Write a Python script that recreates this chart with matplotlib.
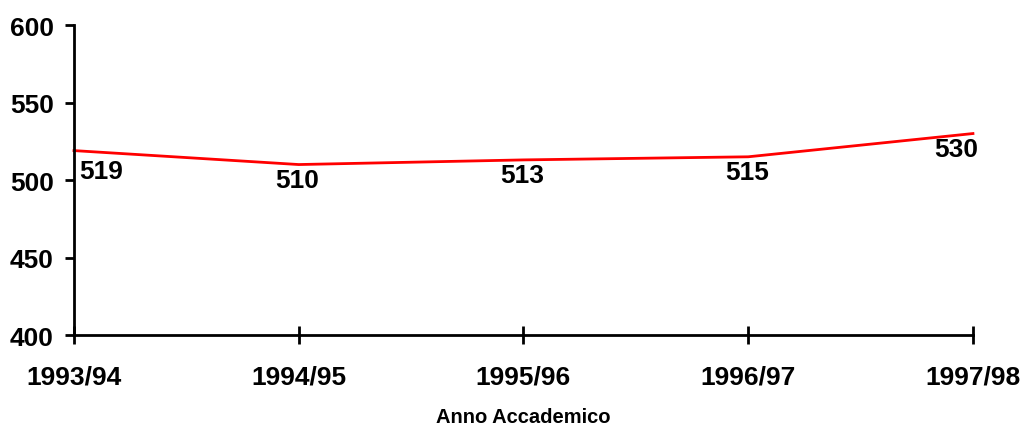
import matplotlib.pyplot as plt

years = ["1993/94", "1994/95", "1995/96", "1996/97", "1997/98"]
values = [519, 510, 513, 515, 530]
y_ticks = [400, 450, 500, 550, 600]

plt.rcParams['font.family'] = ['Liberation Sans', 'DejaVu Sans']
plt.rcParams['font.weight'] = 'bold'


def main():
    fig = plt.figure(figsize=(10.22, 4.27), dpi=100)
    ax = fig.add_axes([0.0724, 0.213, 0.8796, 0.726])
    x = range(len(years))
    ax.plot(x, values, color="#ff0000", linewidth=2, clip_on=False)

    # data labels just under each point, Excel style
    for i, v in enumerate(values):
        dy = -11
        if i == 0:
            ha, dx, dy = "left", 4, -15
        elif i == len(values) - 1:
            ha, dx = "right", 4
        else:
            ha, dx = "center", -1
        ax.annotate(str(v), (i, v), xytext=(dx, dy), textcoords="offset points",
                    ha=ha, va="center", fontsize=19, fontweight="bold")

    ax.set_xlim(0, len(years) - 1)
    ax.set_ylim(400, 600)
    ax.set_xticks(list(x))
    ax.set_xticklabels(years)
    ax.set_yticks(y_ticks)

    for s in ["top", "right"]:
        ax.spines[s].set_visible(False)
    for s in ["left", "bottom"]:
        ax.spines[s].set_linewidth(2)

    ax.tick_params(axis="y", direction="out", length=6.5, width=2, pad=8, labelsize=19)
    ax.tick_params(axis="x", direction="inout", length=13, width=2, pad=15, labelsize=19)
    ax.set_xlabel("Anno Accademico", fontsize=14.5, fontweight="bold", va="baseline")
    ax.xaxis.set_label_coords(0.5, -0.282)

    fig.savefig("out.png", dpi=100)


if __name__ == "__main__":
    main()
